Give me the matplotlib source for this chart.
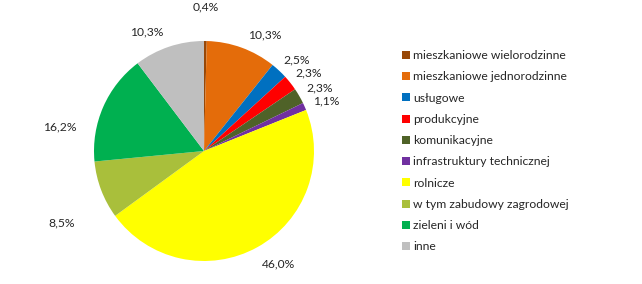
import numpy as np
import matplotlib
matplotlib.use("Agg")
import matplotlib.pyplot as plt
from matplotlib.patches import Patch

categories = ["mieszkaniowe wielorodzinne", "mieszkaniowe jednorodzinne", "usługowe",
              "produkcyjne", "komunikacyjne", "infrastruktury technicznej", "rolnicze",
              "w tym zabudowy zagrodowej", "zieleni i wód", "inne"]
values = [0.4, 10.3, 2.5, 2.3, 2.3, 1.1, 46.0, 8.5, 16.2, 10.3]
colors = ["#984807", "#E46C0A", "#0070C0", "#FF0000", "#4F6228", "#7030A0",
          "#FFFF00", "#A9BF3B", "#00B050", "#BFBFBF"]
# label placement (radius factor, angle shift in degrees) relative to wedge middle
label_r = [1.31, 1.19, 1.18, 1.19, 1.20, 1.20, 1.23, 1.45, 1.33, 1.20]
label_da = [0.0, -7.4, -2.6, -1.7, -1.6, -1.6, 4.4, 5.9, 14.4, 7.1]

plt.rcParams['font.family'] = ['Lato', 'DejaVu Sans']
fig = plt.figure(figsize=(6.42, 2.84), dpi=100)
W, H = 642, 284
ax = fig.add_axes([94 / W, 23 / H, 220 / W, 220 / H])
wedges, _ = ax.pie(values, colors=colors, startangle=90, counterclock=False,
                   wedgeprops=dict(linewidth=0))
ax.set_xlim(-1, 1)
ax.set_ylim(-1, 1)
ax.set_aspect('equal')

for w, v, r, da in zip(wedges, values, label_r, label_da):
    mid = np.deg2rad((w.theta1 + w.theta2) / 2 + da)
    ax.text(r * np.cos(mid), r * np.sin(mid), f"{v:.1f}%".replace(".", ","),
            ha='center', va='center', fontsize=8.7, color='#262626', clip_on=False)

handles = [Patch(facecolor=c, edgecolor='none') for c in colors]
fig.legend(handles, categories, loc='upper left', bbox_to_anchor=(402 / W, 1 - 50 / H),
           frameon=False, fontsize=8.7, handlelength=0.65, handleheight=0.65,
           handletextpad=0.3, labelspacing=0.85, borderaxespad=0, borderpad=0,
           labelcolor='#262626')

fig.savefig("out.png", dpi=100)
